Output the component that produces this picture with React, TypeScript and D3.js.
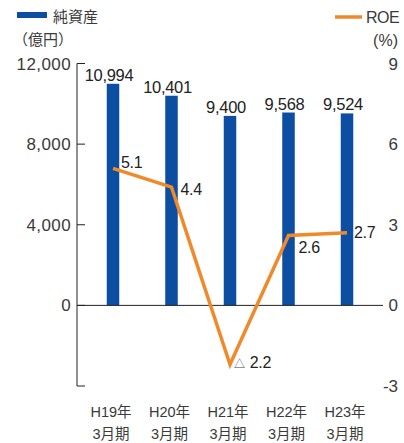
import React from "react";
import * as d3 from "d3";

const categoriesLine1 = ["H19年", "H20年", "H21年", "H22年", "H23年"];
const categoriesLine2 = ["3月期", "3月期", "3月期", "3月期", "3月期"];
const netAssets = [10994, 10401, 9400, 9568, 9524];
const roe = [5.1, 4.4, -2.2, 2.6, 2.7];
const leftTicks = [0, 4000, 8000, 12000];
const rightTicks = [-3, 0, 3, 6, 9];

const W = 404;
const H = 443;
const BLUE = "#0b4ea2";
const ORANGE = "#f0892a";
const TEXT = "#3a3a3a";
const FONT = "'Liberation Sans', 'Noto Sans CJK JP', sans-serif";

export default function App() {
  const x = d3.scaleBand<number>().domain(d3.range(5)).range([83.75, 376.25]);
  const cx = (i: number) => (x(i) as number) + x.bandwidth() / 2;
  const yL = d3.scaleLinear().domain([-4000, 12000]).range([386, 63.5]);
  const yR = d3.scaleLinear().domain([-3, 9]).range([386, 63.5]);
  const barW = 12.5;
  const line = d3
    .line<number>()
    .x((_, i) => cx(i))
    .y((d) => yR(d));

  const fmt = d3.format(",");
  const roeOffsets = [
    [8, 0],
    [9, 8],
    [4, 3],
    [10, 17],
    [7, 5],
  ];

  return (
    <svg
      width={W}
      height={H}
      style={{ position: "absolute", left: 0, top: 0, background: "#fff" }}
      fontFamily={FONT}
    >
      {/* legend */}
      <rect x={17} y={12} width={30} height={6} fill={BLUE} />
      <text x={53} y={22} fontSize={15} fill={TEXT}>純資産</text>
      <text x={13} y={45} fontSize={15} fill={TEXT}>（億円）</text>
      <line x1={335} x2={362} y1={17} y2={17} stroke={ORANGE} strokeWidth={3.5} />
      <text x={366} y={23} fontSize={16} fill={TEXT} letterSpacing={-0.5}>ROE</text>
      <text x={398} y={46} fontSize={16} fill={TEXT} textAnchor="end">(%)</text>

      {/* bars */}
      {netAssets.map((v, i) => (
        <rect
          key={"b" + i}
          x={cx(i) - barW / 2}
          y={yL(v)}
          width={barW}
          height={yL(0) - yL(v)}
          fill={BLUE}
        />
      ))}

      {/* left axis */}
      <line x1={77} x2={77} y1={yL(12000)} y2={yL(-4000)} stroke="#222" strokeWidth={1} />
      {[...leftTicks, -4000].map((t) => (
        <line key={"lt" + t} x1={77} x2={85} y1={yL(t)} y2={yL(t)} stroke="#222" strokeWidth={1} />
      ))}
      {leftTicks.map((t) => (
        <text key={"ll" + t} x={71} y={yL(t) + 6} fontSize={17} fill={TEXT} textAnchor="end" letterSpacing={0.4}>
          {fmt(t)}
        </text>
      ))}
      {/* zero line */}
      <line x1={77} x2={383} y1={yL(0)} y2={yL(0)} stroke="#222" strokeWidth={1} />

      {/* right axis labels */}
      {rightTicks.map((t) => (
        <text key={"rl" + t} x={398} y={yR(t) + 6} fontSize={17} fill={TEXT} textAnchor="end">
          {t}
        </text>
      ))}

      {/* bar labels */}
      {netAssets.map((v, i) => (
        <text
          key={"bl" + i}
          x={cx(i) - 4}
          y={yL(v) - 3}
          fontSize={16.5}
          fill="#222"
          textAnchor="middle"
          letterSpacing={-0.3}
        >
          {fmt(v)}
        </text>
      ))}

      {/* ROE line */}
      <path d={line(roe) || ""} fill="none" stroke={ORANGE} strokeWidth={3.5} strokeLinejoin="miter" />
      {roe.map((v, i) => (
        <text
          key={"rv" + i}
          x={cx(i) + roeOffsets[i][0]}
          y={yR(v) + roeOffsets[i][1]}
          fontSize={16}
          fill="#222"
          letterSpacing={-0.3}
        >
          {v < 0 ? (
            <>
              <tspan fontSize={11} fill="#444">△</tspan>
              <tspan dx={5}>{Math.abs(v).toFixed(1)}</tspan>
            </>
          ) : (
            v.toFixed(1)
          )}
        </text>
      ))}

      {/* category labels */}
      {categoriesLine1.map((c, i) => (
        <g key={"c" + i}>
          <text x={cx(i) - 2} y={417} fontSize={14.5} fill={TEXT} textAnchor="middle">{c}</text>
          <text x={cx(i) - 2} y={439} fontSize={14.5} fill={TEXT} textAnchor="middle">{categoriesLine2[i]}</text>
        </g>
      ))}
    </svg>
  );
}
